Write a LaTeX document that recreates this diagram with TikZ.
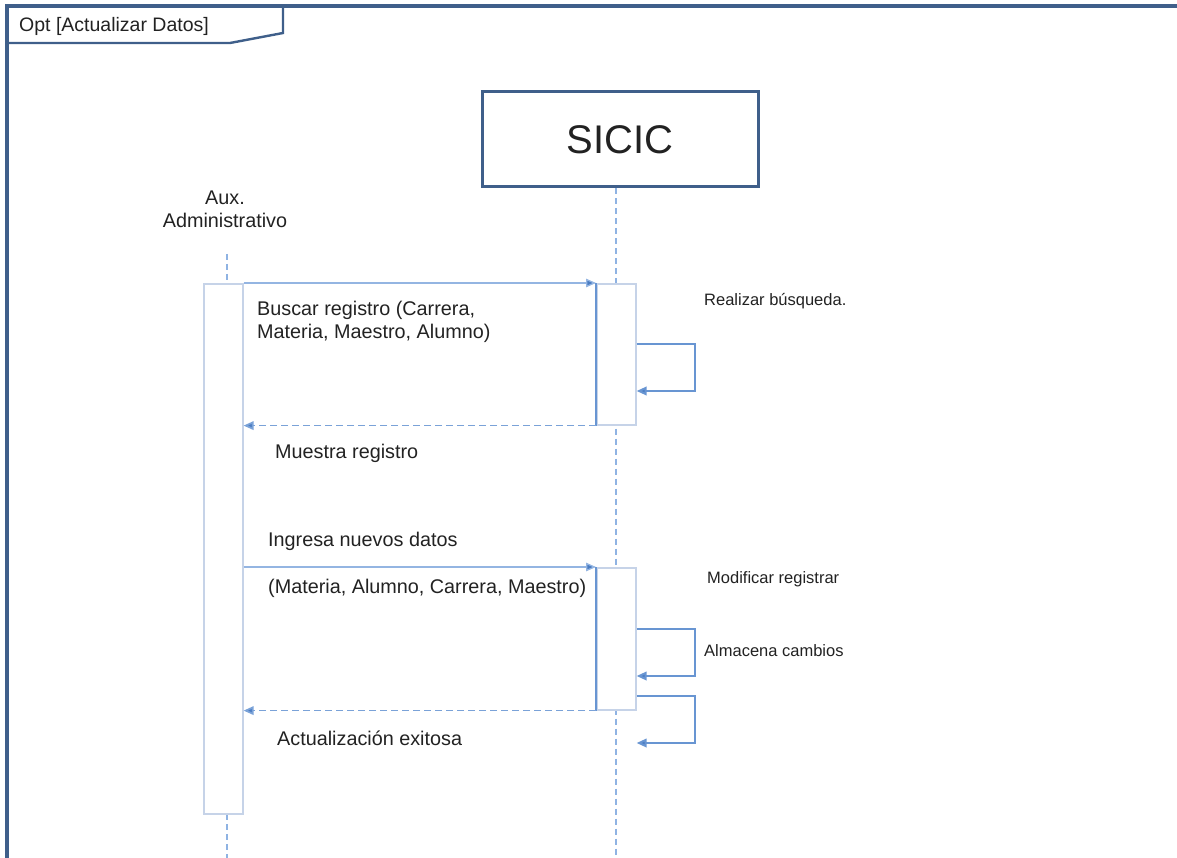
\documentclass[tikz,border=0pt]{standalone}
\usepackage{fontspec}
\setmainfont{Liberation Sans}
\usetikzlibrary{arrows.meta,calc}

\definecolor{framecol}{HTML}{3F5F8A}
\definecolor{actedge}{HTML}{C6D3E8}
\definecolor{msgcol}{HTML}{94B5E2}
\definecolor{retcol}{HTML}{7AA2D8}
\definecolor{selfcol}{HTML}{6895D2}
\definecolor{tipcol}{HTML}{4A7CC2}
\definecolor{lifecol}{HTML}{8FB3E3}
\definecolor{txtcol}{HTML}{222222}

\tikzset{
  frameline/.style={draw=framecol, line width=3.6pt},
  framelabel/.style={draw=framecol, line width=2.4pt},
  lifeline/.style={draw=lifecol, line width=2pt, dash pattern=on 6pt off 4pt},
  actbox/.style={draw=actedge, fill=white, line width=1.6pt, anchor=north west, minimum width=39pt, inner sep=0pt},
  headbox/.style={draw=framecol, fill=white, line width=3pt, minimum width=276pt, minimum height=95pt, inner sep=0pt, font=\fontsize{40}{46}\selectfont, text=txtcol},
  tipstyle/.style={-{Triangle[length=10pt,width=8.5pt,fill=tipcol]}},
  callmsg/.style={tipstyle, draw=msgcol, line width=1.3pt},
  retmsg/.style={tipstyle, draw=retcol, line width=1.7pt, dash pattern=on 7pt off 4pt},
  selfmsg/.style={tipstyle, draw=selfcol, line width=2pt},
  bigtxt/.style={anchor=west, inner sep=0pt, align=left, text=txtcol, font=\fontsize{19.8}{23}\selectfont},
  smalltxt/.style={anchor=west, inner sep=0pt, text=txtcol, font=\fontsize{16.5}{19}\selectfont},
}

\begin{document}
\begin{tikzpicture}[x=1pt,y=-1pt]
\useasboundingbox (0,0) rectangle (1177,858);

% lifeline heads
\node[headbox] (sicic) at (620,139.5) {SICIC};
\node[align=center, inner sep=0pt, text=txtcol, font=\fontsize{19.8}{23}\selectfont] (aux) at (225,209.5) {Aux.\\Administrativo};

% lifelines (drawn before the activation bars)
\coordinate (auxtop) at (226.5,254);
\coordinate (auxend) at (226.5,858);
\coordinate (sicend) at (615.5,858);
\draw[lifeline] (sicic.south -| sicend) -- (sicend);
\draw[lifeline] (auxtop) -- (auxend);

% activation bars
\node[actbox, minimum height=530pt] (auxact) at (203,283) {};
\node[actbox, minimum height=141pt] (act1) at (596,283) {};
\node[actbox, minimum height=142pt] (act2) at (596,567) {};

% first exchange
\draw[callmsg] (auxact.north east) -- (act1.north west);
\draw[draw=selfcol, line width=1.4pt] (act1.north west) -- (act1.south west);
\coordinate (s1a) at ($(act1.north east)+(0,61)$);
\coordinate (s1b) at ($(act1.north east)+(0,108)$);
\draw[selfmsg] (s1a) -- ++(58,0) |- (s1b);
\draw[retmsg] (act1.south west) -- (auxact.east |- act1.south west);

% second exchange
\draw[callmsg] (auxact.east |- act2.north west) -- (act2.north west);
\draw[draw=selfcol, line width=1.4pt] (act2.north west) -- (act2.south west);
\coordinate (s2a) at ($(act2.north east)+(0,62)$);
\coordinate (s2b) at ($(act2.north east)+(0,109)$);
\coordinate (s3a) at ($(act2.north east)+(0,129)$);
\coordinate (s3b) at ($(act2.north east)+(0,176)$);
\draw[selfmsg] (s2a) -- ++(58,0) |- (s2b);
\draw[selfmsg] (s3a) -- ++(58,0) |- (s3b);
\draw[retmsg] (act2.south west) -- (auxact.east |- act2.south west);

% message labels
\node[bigtxt] (m1) at (257,322) {Buscar registro (Carrera,\\Materia, Maestro, Alumno)};
\node[bigtxt] (m2) at (275,453) {Muestra registro};
\node[bigtxt] (m3) at (268,541) {Ingresa nuevos datos};
\node[bigtxt] (m4) at (268,588) {(Materia, Alumno, Carrera, Maestro)};
\node[bigtxt] (m5) at (277,738) {Actualización exitosa};
\node[smalltxt] (n1) at (704,301) {Realizar búsqueda.};
\node[smalltxt] (n2) at (707,579) {Modificar registrar};
\node[smalltxt] (n3) at (704,651) {Almacena cambios};

% combined fragment frame
\draw[frameline] (7,858) -- (7,6) -- (1177,6);
\draw[framelabel] (283,6) -- (283,33) -- (230,43) -- (7,43);
\node[anchor=west, inner sep=0pt, text=txtcol, font=\fontsize{19.5}{23}\selectfont] (opt) at (19,26) {Opt [Actualizar Datos]};
\end{tikzpicture}
\end{document}
